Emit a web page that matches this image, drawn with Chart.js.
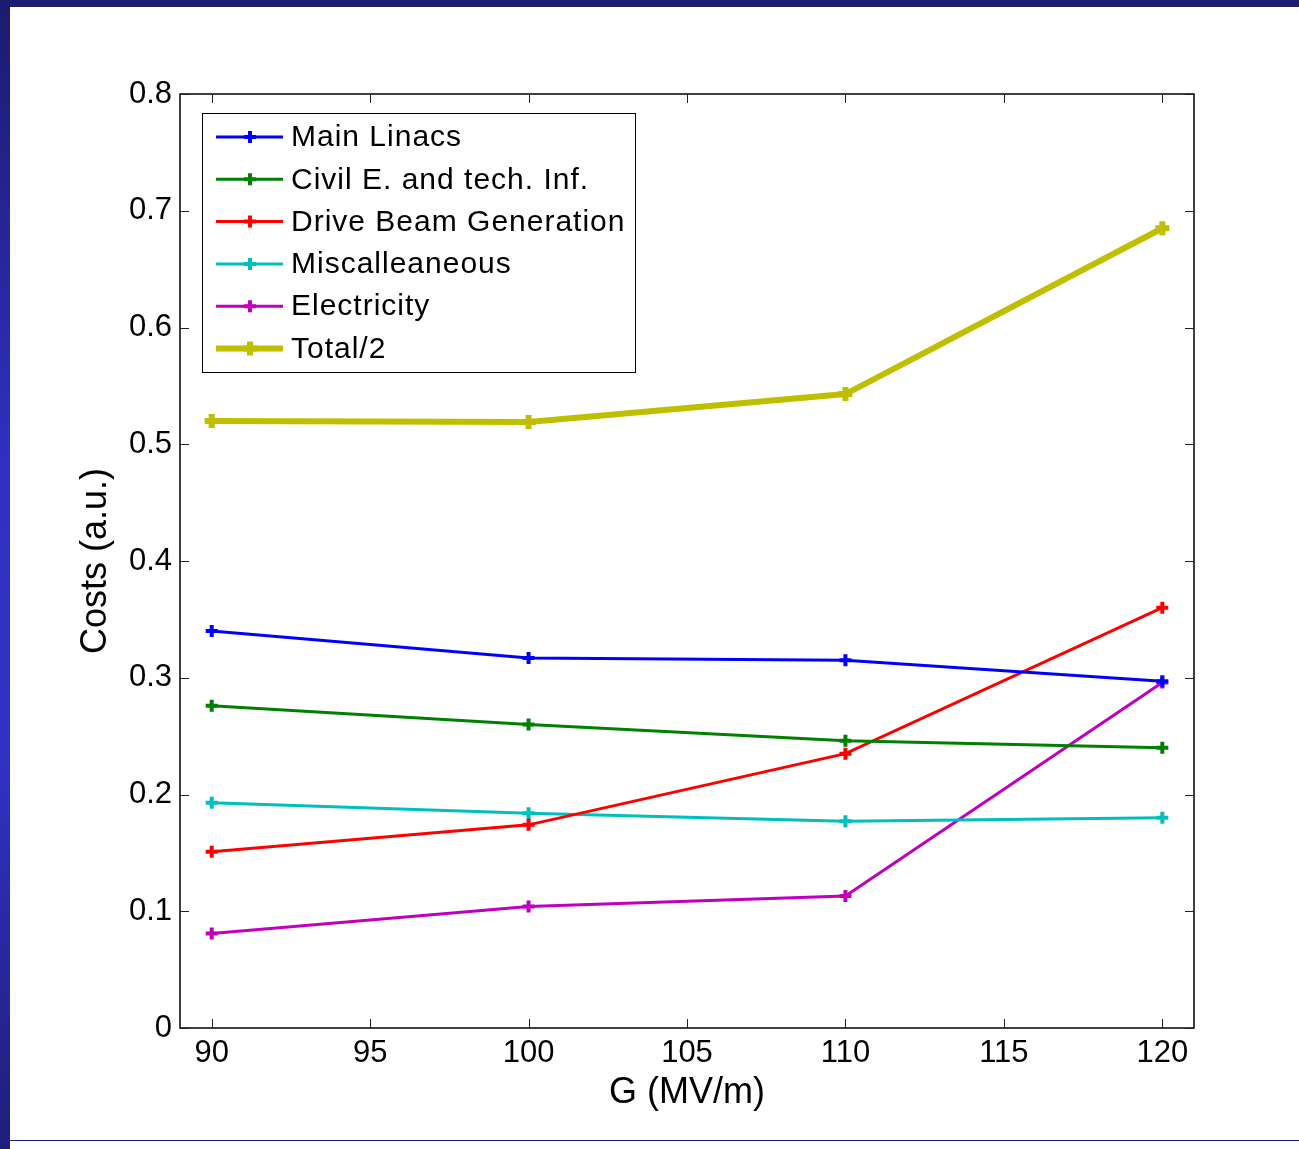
<!DOCTYPE html>
<html>
<head>
<meta charset="utf-8">
<script src="https://cdn.jsdelivr.net/npm/chart.js@4.4.1/dist/chart.umd.min.js"></script>
<style>
  html, body { margin: 0; padding: 0; background: #ffffff; }
  body { width: 1299px; height: 1149px; position: relative; overflow: hidden; }
  #topbar { position: absolute; left: 0; top: 0; width: 1299px; height: 7px; background: #1b1b6f; }
  #leftbar { position: absolute; left: 0; top: 0; width: 10px; height: 1149px;
    background: linear-gradient(#1b1b6f 0%, #3030c0 40%, #3232c6 65%, #1e1e7a 100%); }
  #bottomline { position: absolute; left: 10px; top: 1140px; width: 1289px; height: 1px; background: #1b1b6f; }
  #wrap { position: absolute; left: 0; top: 0; width: 1299px; height: 1149px; }
</style>
</head>
<body>
<div id="wrap"><canvas id="c" width="1299" height="1149"></canvas></div>
<div id="topbar"></div>
<div id="leftbar"></div>
<div id="bottomline"></div>
<script>
// ---- data ----
const gValues = [90, 100, 110, 120];
const mainLinacs = [0.340, 0.317, 0.315, 0.297];
const civilEng = [0.276, 0.260, 0.246, 0.240];
const driveBeam = [0.151, 0.174, 0.235, 0.360];
const miscellaneous = [0.193, 0.184, 0.177, 0.180];
const electricity = [0.081, 0.104, 0.113, 0.296];
const totalHalf = [0.520, 0.519, 0.543, 0.685];
const seriesLabels = ['Main Linacs', 'Civil E. and tech. Inf.', 'Drive Beam Generation', 'Miscalleaneous', 'Electricity', 'Total/2'];
const xTicks = [90, 95, 100, 105, 110, 115, 120];
const yTicks = [0, 0.1, 0.2, 0.3, 0.4, 0.5, 0.6, 0.7, 0.8];
const yTickLabels = ['0', '0.1', '0.2', '0.3', '0.4', '0.5', '0.6', '0.7', '0.8'];

const seriesValues = [mainLinacs, civilEng, driveBeam, miscellaneous, electricity, totalHalf];
const colors = ['#0000ff', '#008000', '#ff0000', '#00bfbf', '#bf00bf', '#bfbf00'];
const widths = [3, 3, 3, 3, 3, 6];

const FONT = '"Liberation Sans", Arial, Helvetica, sans-serif';
Chart.defaults.font.family = FONT;
Chart.defaults.color = '#000000';

const datasets = seriesValues.map((vals, i) => ({
  label: seriesLabels[i],
  data: vals.map((v, j) => ({ x: gValues[j], y: v })),
  borderColor: colors[i],
  backgroundColor: colors[i],
  borderWidth: widths[i],
  pointStyle: 'cross',
  pointRadius: i === 5 ? 7 : 6,
  pointBorderWidth: i === 5 ? 6 : 4,
  pointBorderColor: colors[i],
  pointHoverRadius: 6,
  tension: 0,
  fill: false
}));

function drawCross(ctx, x, y, r, lw, color) {
  ctx.save();
  ctx.strokeStyle = color;
  ctx.lineWidth = lw;
  ctx.beginPath();
  ctx.moveTo(x - r, y); ctx.lineTo(x + r, y);
  ctx.moveTo(x, y - r); ctx.lineTo(x, y + r);
  ctx.stroke();
  ctx.restore();
}

const boxAndLegend = {
  id: 'boxAndLegend',
  afterDraw(chart) {
    const ctx = chart.ctx;
    const a = chart.chartArea;
    const xs = chart.scales.x, ys = chart.scales.y;
    ctx.save();
    // box
    ctx.strokeStyle = '#000000';
    ctx.lineWidth = 1.5;
    ctx.strokeRect(a.left, a.top, a.right - a.left, a.bottom - a.top);
    // inside ticks
    ctx.lineWidth = 1;
    ctx.strokeStyle = '#222222';
    ctx.beginPath();
    xTicks.forEach(v => {
      const px = Math.round(xs.getPixelForValue(v)) + 0.5;
      ctx.moveTo(px, a.bottom); ctx.lineTo(px, a.bottom - 9);
      ctx.moveTo(px, a.top); ctx.lineTo(px, a.top + 9);
    });
    yTicks.forEach(v => {
      const py = Math.round(ys.getPixelForValue(v)) + 0.5;
      ctx.moveTo(a.left, py); ctx.lineTo(a.left + 9, py);
      ctx.moveTo(a.right, py); ctx.lineTo(a.right - 9, py);
    });
    ctx.stroke();
    // legend
    const lx = 202.5, ly = 113.5, lw = 433, lh = 259;
    ctx.fillStyle = '#ffffff';
    ctx.fillRect(lx, ly, lw, lh);
    ctx.strokeStyle = '#000000';
    ctx.lineWidth = 1;
    ctx.strokeRect(lx, ly, lw, lh);
    ctx.font = '30px ' + FONT;
    ctx.textBaseline = 'middle';
    ctx.textAlign = 'left';
    if ('letterSpacing' in ctx) ctx.letterSpacing = '1px';
    seriesLabels.forEach((lab, i) => {
      const y = 137 + i * 42.3;
      ctx.strokeStyle = colors[i];
      ctx.lineWidth = widths[i];
      ctx.beginPath();
      ctx.moveTo(216, y); ctx.lineTo(283, y);
      ctx.stroke();
      drawCross(ctx, 250, y, i === 5 ? 7 : 6, i === 5 ? 6 : 4, colors[i]);
      ctx.fillStyle = '#000000';
      ctx.fillText(lab, 291, y + 1);
    });
    ctx.restore();
  }
};

new Chart(document.getElementById('c'), {
  type: 'line',
  data: { datasets },
  options: {
    responsive: false,
    animation: false,
    devicePixelRatio: 1,
    layout: { padding: { left: 60, right: 105, top: 94, bottom: 30 } },
    plugins: { legend: { display: false }, tooltip: { enabled: false } },
    scales: {
      x: {
        type: 'linear',
        min: 89, max: 121,
        afterBuildTicks: s => { s.ticks = xTicks.map(v => ({ value: v })); },
        afterFit: s => { s.height = 91; },
        grid: { display: false, drawTicks: false },
        border: { display: false },
        ticks: { font: { size: 31 }, color: '#000', padding: 7, maxRotation: 0, autoSkip: false,
                 callback: v => String(v) },
        title: { display: true, text: 'G (MV/m)', font: { size: 36 }, color: '#000', padding: { top: 0, bottom: 4 } }
      },
      y: {
        type: 'linear',
        min: 0, max: 0.8,
        afterBuildTicks: s => { s.ticks = yTicks.map(v => ({ value: v })); },
        afterFit: s => { s.width = 120; },
        grid: { display: false, drawTicks: false },
        border: { display: false },
        ticks: { font: { size: 31 }, color: '#000', padding: 8, autoSkip: false,
                 callback: (v) => { const k = yTicks.findIndex(t => Math.abs(t - v) < 1e-9); return k >= 0 ? yTickLabels[k] : ''; } },
        title: { display: true, text: 'Costs (a.u.)', font: { size: 36 }, color: '#000', padding: { top: 14, bottom: 0 } }
      }
    }
  },
  plugins: [boxAndLegend]
});
</script>
</body>
</html>
